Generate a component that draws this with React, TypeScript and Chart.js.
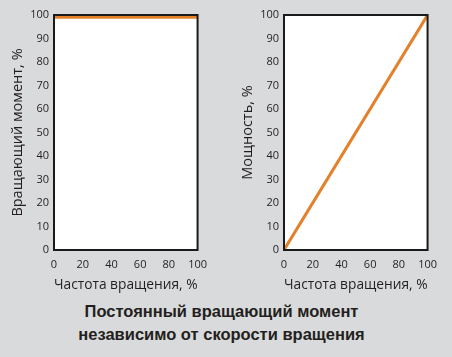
import React, { useEffect, useRef } from "react";
import { Chart, registerables } from "chart.js";
Chart.register(...registerables);

const speedPct = [0, 100];
const torquePct = [99, 99];
const powerPct = [0, 100];
const xTicks = [0, 20, 40, 60, 80, 100];
const yTicks = [0, 10, 20, 30, 40, 50, 60, 70, 80, 90, 100];
const xTitle = "Частота вращения, %";
const leftYTitle = "Вращающий момент, %";
const rightYTitle = "Мощность, %";
const caption = ["Постоянный вращающий момент", "независимо от скорости вращения"];

const FONT = "'Open Sans', 'Noto Sans', sans-serif";
const ORANGE = "#e3812a";

const boxPlugin = {
  id: "box",
  beforeDraw(chart: any) {
    const { ctx, chartArea: a } = chart;
    ctx.save();
    ctx.fillStyle = "#ffffff";
    ctx.fillRect(a.left, a.top, a.right - a.left, a.bottom - a.top);
    ctx.restore();
  },
  afterDraw(chart: any) {
    const { ctx, chartArea: a } = chart;
    ctx.save();
    ctx.strokeStyle = "#1a1a1a";
    ctx.lineWidth = 2;
    ctx.strokeRect(a.left, a.top, a.right - a.left, a.bottom - a.top);
    ctx.restore();
  },
};

function Panel({ ys, yTitle }: { ys: number[]; yTitle: string }) {
  const ref = useRef<HTMLCanvasElement>(null);
  useEffect(() => {
    const chart = new Chart(ref.current!, {
      type: "line",
      data: {
        datasets: [
          {
            data: speedPct.map((x, i) => ({ x, y: ys[i] })),
            borderColor: ORANGE,
            borderWidth: 3,
            pointRadius: 0,
            fill: false,
          },
        ],
      },
      options: {
        animation: false,
        responsive: false,
        maintainAspectRatio: false,
        layout: { padding: { top: 15, right: 15, bottom: 0, left: 0 } },
        plugins: { legend: { display: false }, tooltip: { enabled: false } },
        scales: {
          x: {
            type: "linear",
            min: 0,
            max: 100,
            afterBuildTicks: (s: any) => {
              s.ticks = xTicks.map((v) => ({ value: v }));
            },
            afterFit: (s: any) => {
              s.height = 50;
            },
            grid: { display: false, drawTicks: false },
            border: { display: false },
            ticks: { color: "#231f20", font: { family: FONT, size: 11 }, padding: 8, maxRotation: 0 },
            title: { display: true, text: xTitle, color: "#231f20", font: { family: FONT, size: 14.5 }, padding: { top: 0, bottom: 6 } },
          },
          y: {
            type: "linear",
            min: 0,
            max: 100,
            afterBuildTicks: (s: any) => {
              s.ticks = yTicks.map((v) => ({ value: v }));
            },
            afterFit: (s: any) => {
              s.width = 54;
            },
            grid: { display: false, drawTicks: false },
            border: { display: false },
            ticks: { color: "#231f20", font: { family: FONT, size: 11 }, padding: 5 },
            title: { display: true, text: yTitle, color: "#231f20", font: { family: FONT, size: 14.5 }, padding: { top: 9, bottom: 0 } },
          },
        },
      },
      plugins: [boxPlugin],
    });
    return () => chart.destroy();
  }, []);
  return <canvas ref={ref} width={215} height={300} style={{ width: 215, height: 300, display: "block" }} />;
}

export default function App() {
  return (
    <div
      style={{
        position: "fixed",
        left: 0,
        top: 0,
        width: 452,
        height: 357,
        background: "#d9dadb",
        overflow: "hidden",
      }}
    >
      <div style={{ position: "absolute", left: 0, top: 0 }}>
        <Panel ys={torquePct} yTitle={leftYTitle} />
      </div>
      <div style={{ position: "absolute", left: 230, top: 0 }}>
        <Panel ys={powerPct} yTitle={rightYTitle} />
      </div>
      <div
        style={{
          position: "absolute",
          left: 0,
          top: 300,
          width: 443,
          textAlign: "center",
          fontFamily: "'Liberation Sans', Arial, sans-serif",
          fontWeight: "bold",
          fontSize: 16.5,
          lineHeight: "23px",
          color: "#231f20",
        }}
      >
        <div>{caption[0]}</div>
        <div>{caption[1]}</div>
      </div>
    </div>
  );
}
